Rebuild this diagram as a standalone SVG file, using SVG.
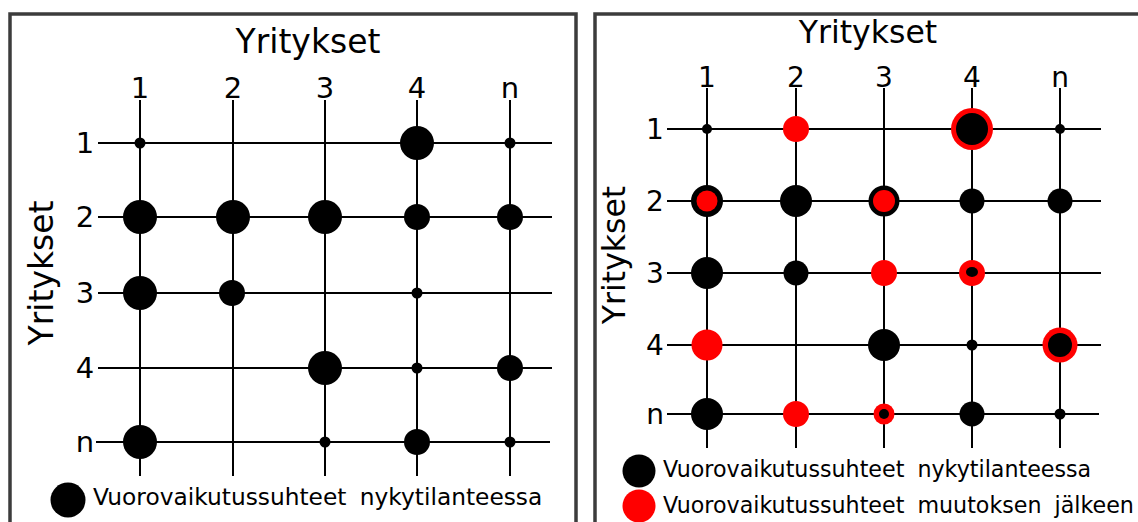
<svg xmlns="http://www.w3.org/2000/svg" width="1138" height="522" viewBox="0 0 1138 522">
<style>
text{font-family:"DejaVu Sans",Verdana,sans-serif;fill:#000}
.frame{fill:none;stroke:#3c3c3c;stroke-width:3.5}
.grid line{stroke:#000;stroke-width:2}
.k{fill:#000}
.r{fill:#ff0000}
.lbl{font-size:29px;text-anchor:middle}
.lblR{font-size:28px;text-anchor:middle}
.leg{font-size:23.3px;word-spacing:6px}
.legR{font-size:22.2px;word-spacing:6px}
</style>
<rect class="frame" x="10" y="14" width="566" height="520"/>
<rect class="frame" x="595" y="14" width="560" height="520"/>

<!-- LEFT PANEL -->
<g id="left-titles">
<text x="308" y="53" font-size="33" text-anchor="middle">Yritykset</text>
<text transform="translate(53,273) rotate(-90)" font-size="33" text-anchor="middle">Yritykset</text>
<text class="lbl" x="140" y="98">1</text>
<text class="lbl" x="233" y="98">2</text>
<text class="lbl" x="325" y="98">3</text>
<text class="lbl" x="417" y="98">4</text>
<text class="lbl" x="510" y="98">n</text>
<text class="lbl" x="85" y="153">1</text>
<text class="lbl" x="85" y="227">2</text>
<text class="lbl" x="85" y="303">3</text>
<text class="lbl" x="85" y="378">4</text>
<text class="lbl" x="85" y="452">n</text>
</g>
<g id="left-grid" class="grid">
<line x1="140" y1="100" x2="140" y2="476"/>
<line x1="233" y1="100" x2="233" y2="476"/>
<line x1="325" y1="100" x2="325" y2="476"/>
<line x1="417" y1="100" x2="417" y2="476"/>
<line x1="510" y1="100" x2="510" y2="476"/>
<line x1="98" y1="143" x2="552" y2="143"/>
<line x1="98" y1="217" x2="552" y2="217"/>
<line x1="98" y1="293" x2="552" y2="293"/>
<line x1="98" y1="368" x2="552" y2="368"/>
<line x1="96" y1="442" x2="550" y2="442"/>
</g>
<g id="left-nodes" class="k">
<circle cx="140" cy="143" r="5.5"/>
<circle cx="417" cy="143" r="17"/>
<circle cx="510" cy="143" r="5.5"/>
<circle cx="140" cy="217" r="17"/>
<circle cx="233" cy="217" r="17"/>
<circle cx="325" cy="217" r="17"/>
<circle cx="417" cy="217" r="13"/>
<circle cx="510" cy="217" r="13"/>
<circle cx="140" cy="293" r="17"/>
<circle cx="232" cy="293" r="13"/>
<circle cx="417" cy="293" r="5.5"/>
<circle cx="325" cy="368" r="17"/>
<circle cx="417" cy="368" r="5.5"/>
<circle cx="510" cy="368" r="13"/>
<circle cx="140" cy="442" r="17"/>
<circle cx="325" cy="442" r="5.5"/>
<circle cx="417" cy="442" r="13"/>
<circle cx="510" cy="442" r="5.5"/>
</g>
<g id="left-legend">
<circle class="k" cx="68" cy="500" r="17.5"/>
<text class="leg" x="93" y="505">Vuorovaikutussuhteet nykytilanteessa</text>
</g>

<!-- RIGHT PANEL -->
<g id="right-titles">
<text x="868" y="43" font-size="31.5" text-anchor="middle">Yritykset</text>
<text transform="translate(625,255) rotate(-90)" font-size="31.5" text-anchor="middle">Yritykset</text>
<text class="lblR" x="707" y="87">1</text>
<text class="lblR" x="796" y="87">2</text>
<text class="lblR" x="884" y="87">3</text>
<text class="lblR" x="972" y="87">4</text>
<text class="lblR" x="1060" y="87">n</text>
<text class="lblR" x="655" y="139">1</text>
<text class="lblR" x="655" y="211">2</text>
<text class="lblR" x="655" y="283">3</text>
<text class="lblR" x="655" y="355">4</text>
<text class="lblR" x="655" y="424">n</text>
</g>
<g id="right-grid" class="grid">
<line x1="707" y1="88" x2="707" y2="448"/>
<line x1="796" y1="88" x2="796" y2="448"/>
<line x1="884" y1="88" x2="884" y2="448"/>
<line x1="972" y1="88" x2="972" y2="448"/>
<line x1="1060" y1="88" x2="1060" y2="448"/>
<line x1="667" y1="129" x2="1101" y2="129"/>
<line x1="667" y1="201" x2="1101" y2="201"/>
<line x1="667" y1="273" x2="1101" y2="273"/>
<line x1="667" y1="345" x2="1101" y2="345"/>
<line x1="667" y1="414" x2="1099" y2="414"/>
</g>
<g id="right-nodes">
<circle class="k" cx="707" cy="129" r="5"/>
<circle class="r" cx="796" cy="129" r="13"/>
<circle class="r" cx="972" cy="129" r="21"/>
<circle class="k" cx="972" cy="129" r="16"/>
<circle class="k" cx="1060" cy="129" r="5"/>

<circle class="k" cx="707" cy="201" r="16"/>
<circle class="r" cx="707" cy="201" r="10.5"/>
<circle class="k" cx="796" cy="201" r="16"/>
<circle class="k" cx="884" cy="201" r="15.5"/>
<circle class="r" cx="884" cy="201" r="11"/>
<circle class="k" cx="972" cy="201" r="12.5"/>
<circle class="k" cx="1060" cy="201" r="12.5"/>

<circle class="k" cx="707" cy="273" r="16"/>
<circle class="k" cx="796" cy="273" r="12.5"/>
<circle class="r" cx="884" cy="273" r="13"/>
<circle class="r" cx="972" cy="273" r="13"/>
<ellipse class="k" cx="972" cy="272" rx="6" ry="5"/>

<circle class="r" cx="707" cy="345" r="15.5"/>
<circle class="k" cx="884" cy="345" r="16"/>
<circle class="k" cx="972" cy="345" r="5.5"/>
<circle class="r" cx="1060" cy="345" r="17.5"/>
<circle class="k" cx="1060" cy="345" r="12"/>

<circle class="k" cx="707" cy="414" r="16"/>
<circle class="r" cx="796" cy="414" r="13"/>
<circle class="r" cx="884" cy="414" r="10.5"/>
<circle class="k" cx="884" cy="414" r="5"/>
<circle class="k" cx="972" cy="414" r="12.5"/>
<circle class="k" cx="1060" cy="414" r="5.5"/>
</g>
<g id="right-legend">
<circle class="k" cx="639" cy="471" r="16.5"/>
<text class="legR" x="663" y="477">Vuorovaikutussuhteet nykytilanteessa</text>
<circle class="r" cx="639" cy="506" r="16.5"/>
<text class="legR" x="663" y="513">Vuorovaikutussuhteet muutoksen jälkeen</text>
</g>
</svg>
